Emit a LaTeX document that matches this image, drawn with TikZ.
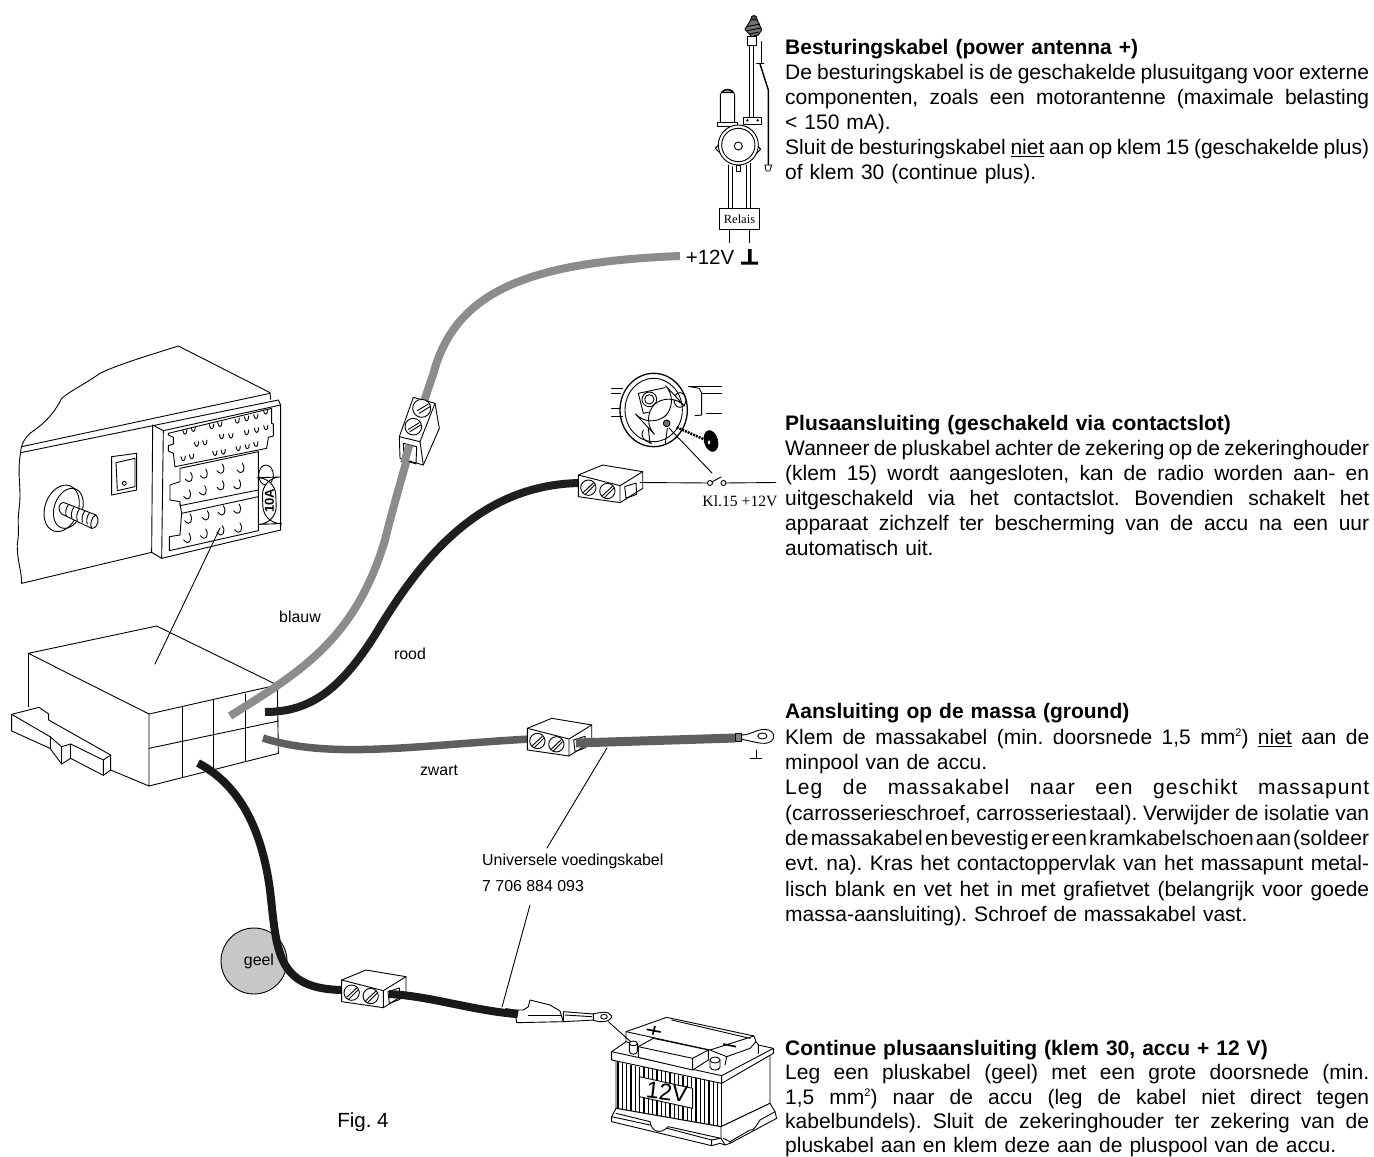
\documentclass[tikz,border=0pt]{standalone}
\usepackage{fontspec}
\setmainfont{Liberation Sans}
\newfontfamily\serifx{Liberation Serif}
\newcommand{\jl}[1]{\makebox[584pt][s]{\spaceskip=.278em plus 4em minus .27em\relax #1}\par}
\newcommand{\nl}[1]{\mbox{#1}\par}
\newcommand{\sqm}{\raisebox{7.5pt}{\fontsize{11}{11}\selectfont 2}}
\frenchspacing
\tikzset{
  art/.style={line width=0.9pt,line join=round,line cap=round},
  whitefill/.style={art,fill=white},
  cableblue/.style={line width=8pt,draw=black!45},
  cablered/.style={line width=8pt,draw=black!88},
  cableground/.style={line width=7.5pt,draw=black!63},
  cableyellow/.style={line width=8pt,draw=black!90},
  para/.style={anchor=north west,inner sep=0pt,text width=584pt,font=\fontsize{21}{24.9}\selectfont},
  smalllabel/.style={inner sep=0pt,font=\fontsize{15.9}{16}\selectfont},
  pics/termbox/.style={code={
    \filldraw[whitefill] (65,60)--(138,30)--(258,50)--(258,100)--(190,143)--(65,125)--cycle;
    \draw[art] (65,60)--(190,92)--(258,50) (190,92)--(190,143);
    \filldraw[whitefill] (95,98) circle (23) (152,108) circle (23);
    \draw[art] (80,112)--(110,84) (86,118)--(114,90) (137,122)--(167,94) (143,128)--(171,100);
    \draw[art] (204,95)--(238,84)--(240,118)--(208,130)--cycle;
  }}
}
\begin{document}
\begin{tikzpicture}[x=1pt,y=-1pt]
\useasboundingbox (0,0) rectangle (1374,1157);
\fill[white] (0,0) rectangle (1374,1157);

% ---------- radio front (zoom coordinates /3)
\begin{scope}[shift={(0,340)},scale=1/3]
  \draw[art] (62,335) .. controls (65,310) and (72,298) .. (90,280) .. controls (120,258) and (155,235) .. (185,175) .. controls (215,150) and (250,135) .. (300,100) .. controls (350,75) and (450,45) .. (535,18) -- (810,158) -- (812,178);
  \draw[art] (65,320)--(810,160) (62,338)--(835,180)--(842,195)--(842,570)--(485,655)--(455,637)--(65,730);
  \draw[art] (62,338) .. controls (50,400) and (65,440) .. (58,500) .. controls (50,560) and (60,570) .. (52,610) .. controls (50,660) and (65,690) .. (65,730);
  \draw[art] (458,255)--(455,637) (458,255)--(490,272)--(485,655) (490,272)--(842,195);
  \draw[art] (505,280)--(815,205)--(815,250)--(820,252)--(820,288)--(805,292)--(800,325)--(525,380)--(520,340)--(505,333)--(505,317)--(520,312)--(520,292)--(505,285)--cycle;
  \draw[art] (540,385)--(775,335)--(775,450)--(540,497)--(540,485)--(510,480)--(510,435)--(540,425)--cycle;
  \draw[art] (545,520)--(775,470)--(775,572)--(508,632)--(508,590)--(540,585)--cycle;
  \draw[art] (540,490)--(545,520) (775,450)--(775,470);
  \foreach \x/\y in {555/278,580/270,635/262,660/255,712/245,740/238,768/232,797/218,590/315,615/310,665/292,693/290,740/280,770/273,798/265,550/358,575/352,645/342,670/338,715/328,742/322,768/315}
    \draw[art] (\x-7,\y-8) .. controls (\x-4,\y+10) and (\x+6,\y+8) .. (\x+6,\y-10);
  \foreach \x/\y in {570/415,615/405,665/390,725/388,565/467,612/455,665/440,715/437,568/540,620/530,668/515,715/510,565/598,615/585,665/575,718/567}
    \draw[art] (\x+2,\y-18) .. controls (\x+14,\y) and (\x+2,\y+22) .. (\x-14,\y+2);
  \filldraw[whitefill] (798,405) ellipse (22 and 30);
  \filldraw[whitefill,rotate around={2:(808,482)},rounded corners=18] (788,412) rectangle (828,552);
  \draw[art] (335,350)--(410,340)--(410,450)--(335,465)--cycle;
  \draw[art] (348,368)--(405,355)--(405,440)--(352,452)--cycle;
  \draw[art] (373,430) circle (6);
  \filldraw[whitefill,rotate around={-20:(185,505)}] (185,505) ellipse (50 and 72);
  \draw[art,rotate around={-20:(205,505)}] (205,505) ellipse (42 and 62);
  \filldraw[whitefill] (190,487)--(288,525) .. controls (300,535) and (295,565) .. (275,565)--(185,522) .. controls (172,510) and (175,490) .. (190,487)--cycle;
  \draw[art] (288,525) .. controls (275,530) and (268,555) .. (275,565);
  \foreach \x in {205,222,238,254,268}
    \draw[art] (\x,{495+(\x-205)*0.38}) .. controls (\x-8,{505+(\x-205)*0.38}) and (\x-10,{520+(\x-205)*0.38}) .. (\x-6,{528+(\x-205)*0.38});
\end{scope}
\node[rotate=90,inner sep=0pt,font=\bfseries\fontsize{13}{13}\selectfont] (fuselabel) at (269.5,501) {10A};

% ---------- radio box
\begin{scope}[shift={(0,620)},scale=1/3]
  \draw[art] (85,100)--(470,18)--(832,195)--(447,282)--cycle;
  \draw[art] (85,100)--(85,260);
  \draw[art] (447,282)--(447,498)--(835,400)--(832,195);
  \draw[art] (548,262)--(548,472) (641,240)--(641,445) (735,222)--(735,425);
  \draw[art] (447,385)--(835,303);
  \draw[art] (332,450)--(447,498);
  \filldraw[whitefill] (35,283)--(117,262)--(146,282)--(146,300)--(332,405)--(332,450)--(310,466)--(212,415)--(185,432)--(150,385)--(35,333)--cycle;
  \draw[art] (35,283)--(150,350)--(185,380)--(212,372)--(310,420)--(332,405) (310,420)--(310,466);
  \draw[art] (150,350)--(150,385) (185,380)--(185,432) (212,372)--(212,415);
\end{scope}
\coordinate (radiotop) at (220,528);
\coordinate (radiobox) at (155,664);
\draw[art] (radiotop)--(radiobox);

% ---------- geel circle (beneath cable)
\node[circle,draw,line width=0.9pt,fill=black!22,minimum size=66pt,inner sep=0pt] (geelc) at (254,961) {};

% ---------- cables
\draw[cableblue] (230,716) .. controls (300,672) and (355,640) .. (385,540) .. controls (392,510) and (425,395) .. (433,375) .. controls (455,290) and (530,262) .. (680,256);
\draw[cablered] (265,712) .. controls (310,712) and (340,690) .. (375,635) .. controls (420,560) and (480,482) .. (585,483);
\draw[cableground] (263,738) .. controls (330,760) and (420,745) .. (530,739);
\draw[cableyellow] (198,763) .. controls (240,785) and (262,830) .. (270,890) .. controls (277,950) and (275,990) .. (345,990);

\pic[scale=1/3] at (556.7,455) {termbox};
\pic[scale=1/3] at (505.7,708.3) {termbox};
\pic[scale=1/3] at (320,960) {termbox};

% cable ends leaving the terminal blocks
\coordinate (gstart) at (576,743);
\coordinate (gend) at (735,738);
\draw[cableground,line width=9pt] (gstart)--(gend);
\coordinate (ystart) at (389,994);
\coordinate (yend) at (516,1014);
\draw[cableyellow] (ystart) .. controls (430,996) and (470,1010) .. (yend);

% ---------- blue terminal block
\begin{scope}[shift={(380,380)},scale=1/3]
  \filldraw[whitefill] (100,52)--(165,70)--(178,145)--(130,255)--(60,235)--(58,170)--cycle;
  \draw[art] (58,170)--(120,185)--(165,70) (120,185)--(130,255);
  \filldraw[whitefill] (125,85) circle (27) (100,140) circle (25);
  \draw[art] (112,92)--(145,72) (117,100)--(150,80) (85,148)--(118,128) (90,155)--(122,135);
  \draw[art] (70,190)--(110,200)--(108,252)--(72,240)--cycle;
  \draw[cableblue] (88,195)--(72,250);
\end{scope}

% ---------- ground lug
\begin{scope}[shift={(500,700)},scale=1/3]
  \draw[art,fill=black!50] (705,100)--(725,100)--(725,125)--(705,125)--cycle;
  \filldraw[whitefill] (725,105) .. controls (750,105) and (770,88) .. (795,88) .. controls (830,90) and (830,128) .. (795,130) .. controls (770,130) and (750,122) .. (725,118)--cycle;
  \draw[art] (787,108) ellipse (14 and 9);
  \draw[art] (750,175)--(785,175) (768,150)--(768,175);
\end{scope}

% ---------- antenna
\begin{scope}[shift={(660,0)},scale=1/3]
  \draw[art] (268,135)--(268,360) (280,135)--(280,360);
  \filldraw[whitefill] (263,110)--(290,110)--(290,135)--(263,135)--cycle;
  \draw[art,fill=black!70] (272,60) .. controls (272,42) and (292,42) .. (292,60)--cycle;
  \draw[art,fill=black!55] (272,60)--(292,60)--(305,90)--(295,105)--(275,110)--(255,88)--cycle;
  \draw[art] (260,80)--(300,72) (262,92)--(304,84) (270,102)--(296,96);
  \draw[art] (303,125)--(303,190) (290,190)--(312,190);
  \draw[line width=1.4pt] (300,192)--(325,270)--(325,495);
  \draw[art] (315,495)--(335,495)--(330,510)--(330,513)--(318,513)--(318,510)--cycle;
  \draw[art] (181,370)--(181,285) .. controls (185,262) and (220,262) .. (224,285)--(224,370);
  \draw[art,fill=black!40] (187,278) .. controls (195,266) and (210,266) .. (218,278)--cycle;
  \filldraw[whitefill] (172,368)--(232,368)--(232,380)--(172,380)--cycle;
  \filldraw[whitefill] (250,352)--(305,352)--(305,372)--(250,372)--cycle;
  \fill (262,361) circle (4) (293,361) circle (4);
  \filldraw[whitefill,rotate around={45:(180,445)}] (170,435) rectangle (190,455);
  \filldraw[whitefill,rotate around={45:(288,448)}] (278,438) rectangle (298,458);
  \filldraw[whitefill] (228,495) rectangle (242,515);
  \filldraw[whitefill] (235,435) circle (60);
  \draw[art] (235,435) circle (50) (235,438) circle (12);
  \draw[art] (205,495)--(205,625) (217,500)--(217,625) (258,495)--(258,625) (270,490)--(270,625);
  \draw[art] (208,690)--(208,728) (267,690)--(267,728);
\end{scope}
\node[draw,line width=0.9pt,minimum width=40.5pt,minimum height=21.5pt,inner sep=0pt,fill=white,font=\serifx\fontsize{12.5}{13}\selectfont] (relaisbox) at (739.5,219) {Relais};
\node[inner sep=0pt,font=\fontsize{20.5}{21}\selectfont] (plus12) at (710,257) {+12V};
\fill[black] (741,261.5) rectangle (758,264.5) (748,249) rectangle (751.5,262);

% ---------- steering wheel and switch
\begin{scope}[shift={(610,365)},scale=1/3]
  \draw[art] (5,70)--(38,70) (5,85)--(32,85) (5,130)--(30,130) (5,155)--(38,155);
  \draw[art] (235,65)--(335,65) (275,85)--(335,85) (290,145)--(335,145);
  \draw[art] (240,65)--(268,70)--(275,85)--(275,150)--(255,152);
  \draw[art,line width=1.3pt] (131,135) ellipse (101 and 110);
  \draw[art] (131,135) ellipse (86 and 95);
  \draw[art] (85,85)--(165,68) (85,85)--(100,145)--(115,142);
  \draw[art] (118,103) circle (22) (118,103) circle (14);
  \draw[art] (210,105) ellipse (18 and 22);
  \filldraw[whitefill,rotate around={43:(150,135)},rounded corners=22] (88,111) rectangle (212,159);
  \draw[art] (100,195) .. controls (90,215) and (100,228) .. (125,235) (115,190)--(120,235) (172,190)--(166,235);
  \draw[art,fill=black!55] (170,175) circle (10);
  \draw[line width=2.5pt,dash pattern=on 2pt off 1pt] (200,187)--(280,222);
  \fill[black,rotate around={15:(303,228)}] (303,228) ellipse (21 and 33);
  \fill[white] (297,232) ellipse (3 and 6);
\end{scope}
\coordinate (keyhole) at (669,428);
\coordinate (swcontact) at (712,473);
\draw[art] (keyhole)--(swcontact);
\coordinate (redstart) at (640,482.5);
\node[circle,draw,line width=0.9pt,minimum size=5pt,inner sep=0pt] (swa) at (710,483) {};
\node[circle,draw,line width=0.9pt,minimum size=5pt,inner sep=0pt] (swb) at (723.5,483) {};
\coordinate (swend) at (776,482.5);
\draw[art] (redstart)--(swa);
\draw[art] (swb)--(swend);
\draw[art] (swa)--(721,477);
\node[inner sep=0pt,font=\serifx\fontsize{15.7}{16}\selectfont] (kl) at (740,501) {Kl.15 +12V};

% ---------- battery
\begin{scope}[shift={(610,1010)},scale=1/3]
  % body
  \filldraw[whitefill] (18,145)--(335,215)--(480,135)--(480,280)--(333,350)--(18,295)--cycle;
  \foreach \x in {24,37,...,330}
    \draw[line width=1.2pt] (\x,{155+(\x-20)*0.21})--(\x,{293+(\x-20)*0.21});
  \draw[art] (333,215)--(333,350);
  \filldraw[whitefill] (88,200)--(248,235)--(248,295)--(88,260)--cycle;
  % rim and lid
  \filldraw[whitefill] (5,125)--(48,95)--(48,65)--(170,22)--(432,78)--(438,95)--(445,105)--(490,115)--(490,130)--(335,220)--(5,150)--cycle;
  \draw[art] (5,125)--(335,197)--(490,115) (335,197)--(335,220);
  \draw[art] (185,30)--(420,85) (48,65)--(300,120)--(432,78);
  \draw[art] (445,105)--(445,130) (300,120)--(350,140)--(420,115)--(438,95) (350,140)--(345,165);
  \draw[art] (48,95)--(85,105);
  % raised block
  \filldraw[whitefill] (85,110)--(130,85)--(295,120)--(295,150)--(248,180)--(85,142)--cycle;
  \draw[art] (85,110)--(248,145)--(295,120) (248,145)--(248,180);
  % terminals
  \filldraw[whitefill] (58,100)--(58,125) .. controls (62,135) and (78,135) .. (82,125)--(82,100)--cycle;
  \filldraw[whitefill] (70,100) ellipse (12 and 7);
  \filldraw[whitefill] (300,150)--(300,172) .. controls (305,183) and (325,183) .. (330,172)--(330,150)--cycle;
  \filldraw[whitefill] (315,150) ellipse (15 and 9);
  % signs
  \draw[line width=1.7pt] (110,58)--(152,66) (135,48)--(128,74);
  \draw[line width=1.7pt] (340,102)--(378,110);
  % base
  \filldraw[whitefill] (18,295)--(5,320)--(5,335)--(305,407)--(330,400)--(345,405)--(360,400)--(500,325)--(495,305)--(480,280)--(333,350)--cycle;
  \draw[art] (5,320)--(120,345) (172,355)--(305,390)--(330,385) (18,310)--(120,335) .. controls (125,365) and (150,375) .. (175,350)--(333,385);
  \draw[art] (305,390)--(305,407) (333,350)--(333,385)--(345,405);
  \draw[art] (340,385)--(360,395)--(360,400) (360,395)--(420,360) .. controls (430,365) and (440,345) .. (450,330)--(495,305);
\end{scope}
\node[inner sep=0pt,rotate=-7,font=\fontsize{23.5}{24}\selectfont] (twelve) at (667,1092) {12V};

% ---------- clamp and lug
\begin{scope}[shift={(500,1000)},scale=1/3]
  \draw[art] (325,65)--(392,125);
  \filldraw[whitefill] (45,30)--(70,30)--(85,20)--(90,0)--(150,15)--(180,33)--(190,65)--(50,68)--cycle;
  \draw[art] (85,45)--(185,45);
  \filldraw[whitefill] (190,35)--(282,42)--(282,60)--(190,65)--cycle;
  \draw[art] (195,45)--(275,50);
  \filldraw[whitefill] (280,42) .. controls (295,38) and (325,30) .. (335,48) .. controls (335,65) and (300,70) .. (280,60)--cycle;
  \draw[art] (312,50) ellipse (10 and 7);
\end{scope}
\draw[cableyellow] (505,1012)--(518,1014);

% ---------- leaders
\coordinate (la) at (607,748);
\coordinate (lb) at (547,848);
\draw[art] (la)--(lb);
\coordinate (lc) at (530,905);
\coordinate (ld) at (502,1007);
\draw[art] (lc)--(ld);

% ---------- labels
\node[smalllabel] (blauw) at (300,617) {blauw};
\node[smalllabel] (rood) at (410,654) {rood};
\node[smalllabel] (zwart) at (439,770) {zwart};
\node[smalllabel,anchor=west] (univ) at (482,861) {Universele voedingskabel};
\node[smalllabel,anchor=west] (partno) at (482,886) {7 706 884 093};
\node[smalllabel] (geel) at (259,961) {geel};
\node[inner sep=0pt,font=\fontsize{20.5}{21}\selectfont] (fig) at (363,1122) {Fig. 4};

% ---------- text
\node[para] (t1) at (785,39.5) {%
\nl{\textbf{Besturingskabel (power antenna +)}}%
\jl{De besturingskabel is de geschakelde plusuitgang voor externe}%
\jl{componenten, zoals een motorantenne (maximale belasting}%
\nl{< 150 mA).}%
\jl{Sluit de besturingskabel \underline{niet} aan op klem 15 (geschakelde plus)}%
\nl{of klem 30 (continue plus).}};
\node[para] (t2) at (785,415.5) {%
\nl{\textbf{Plusaansluiting (geschakeld via contactslot)}}%
\jl{Wanneer de pluskabel achter de zekering op de zekeringhouder}%
\jl{(klem 15) wordt aangesloten, kan de radio worden aan- en}%
\jl{uitgeschakeld via het contactslot. Bovendien schakelt het}%
\jl{apparaat zichzelf ter bescherming van de accu na een uur}%
\nl{automatisch uit.}};
\node[para,font=\fontsize{21}{25.3}\selectfont] (t3) at (785,703.5) {%
\nl{\textbf{Aansluiting op de massa (ground)}}%
\jl{Klem de massakabel (min. doorsnede 1,5 mm\sqm) \underline{niet} aan de}%
\nl{minpool van de accu.}%
\jl{\addfontfeature{LetterSpace=5}Leg de massakabel naar een geschikt massapunt}%
\jl{(carrosserieschroef, carrosseriestaal). Verwijder de isolatie van}%
\jl{de massakabel en bevestig er een kramkabelschoen aan (soldeer}%
\jl{evt. na). Kras het contactoppervlak van het massapunt metal-}%
\jl{lisch blank en vet het in met grafietvet (belangrijk voor goede}%
\nl{massa-aansluiting). Schroef de massakabel vast.}};
\node[para,font=\fontsize{21}{24.3}\selectfont] (t4) at (785,1040) {%
\nl{\textbf{Continue plusaansluiting (klem 30, accu + 12 V)}}%
\jl{Leg een pluskabel (geel) met een grote doorsnede (min.}%
\jl{1,5 mm\sqm) naar de accu (leg de kabel niet direct tegen}%
\jl{kabelbundels). Sluit de zekeringhouder ter zekering van de}%
\nl{pluskabel aan en klem deze aan de pluspool van de accu.}};
\end{tikzpicture}
\end{document}
